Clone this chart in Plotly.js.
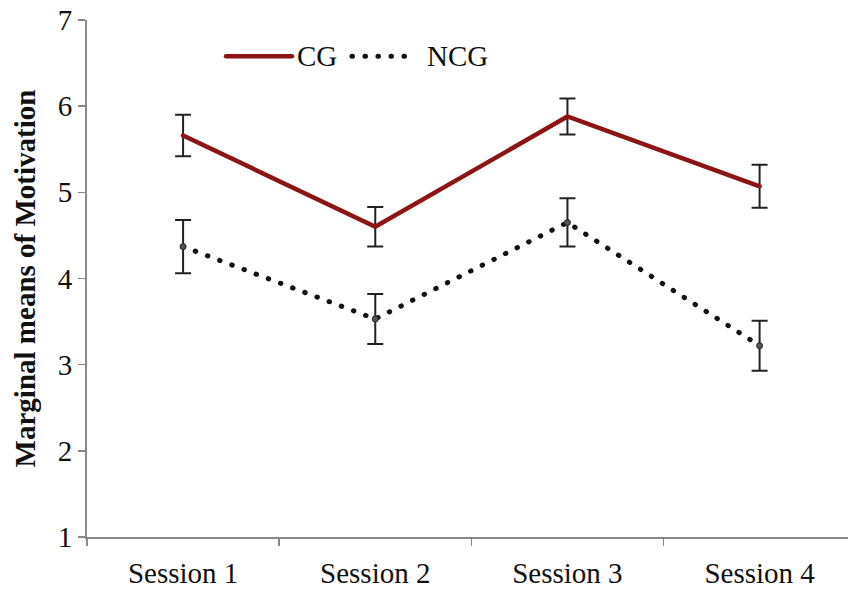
<!DOCTYPE html>
<html>
<head>
<meta charset="utf-8">
<script src="https://cdn.plot.ly/plotly-3.0.1.min.js"></script>
<style>
html, body { margin: 0; padding: 0; background: #fff; }
#chart { width: 848px; height: 589px; }
path.js-line, .shapelayer path { stroke-linecap: round; }
</style>
</head>
<body>
<div id="chart"></div>
<script>
const sessions = ["Session 1", "Session 2", "Session 3", "Session 4"];
const cgMeans = [5.66, 4.60, 5.88, 5.07];
const cgErr = [0.24, 0.23, 0.21, 0.25];
const ncgMeans = [4.37, 3.53, 4.65, 3.22];
const ncgErr = [0.31, 0.29, 0.28, 0.29];
const yTicks = [1, 2, 3, 4, 5, 6, 7];
const seriesNames = ["CG", "NCG"];

const cgColor = "#8C1414";
const ncgColor = "#111";
const ncgDash = "0.5px,12.5px";
const errStyle = { type: "data", visible: true, color: "#222", thickness: 2, width: 8 };

const traces = [
  {
    x: sessions, y: cgMeans, name: seriesNames[0], type: "scatter", mode: "lines",
    line: { color: cgColor, width: 4.5 },
    error_y: Object.assign({ array: cgErr }, errStyle)
  },
  {
    x: sessions, y: ncgMeans, name: seriesNames[1], type: "scatter", mode: "lines+markers",
    line: { color: ncgColor, width: 5, dash: ncgDash },
    marker: { color: "#555", size: 6, line: { color: "#222", width: 1 } },
    error_y: Object.assign({ array: ncgErr }, errStyle)
  }
];

const font = { family: "Liberation Serif, Times New Roman, serif", color: "#111" };

// custom legend (paper coordinates)
const legY = 0.930;
const layout = {
  width: 848, height: 589,
  margin: { l: 87, r: 0, t: 20, b: 52 },
  paper_bgcolor: "#fff", plot_bgcolor: "#fff",
  showlegend: false,
  shapes: [
    { type: "line", xref: "paper", yref: "paper", x0: 0.1827, x1: 0.2694, y0: legY, y1: legY,
      line: { color: cgColor, width: 4.5 } },
    { type: "line", xref: "paper", yref: "paper", x0: 0.3482, x1: 0.431, y0: legY, y1: legY,
      line: { color: ncgColor, width: 5, dash: ncgDash } }
  ],
  annotations: [
    { xref: "paper", yref: "paper", x: 0.2733, y: legY, xanchor: "left", yanchor: "middle",
      text: seriesNames[0], showarrow: false, font: Object.assign({ size: 29 }, font) },
    { xref: "paper", yref: "paper", x: 0.444, y: legY, xanchor: "left", yanchor: "middle",
      text: seriesNames[1], showarrow: false, font: Object.assign({ size: 29 }, font) }
  ],
  xaxis: {
    type: "category", range: [-0.5, 3.46],
    showline: true, linecolor: "#888", linewidth: 2,
    ticks: "outside", tickson: "boundaries", ticklen: 7, tickcolor: "#888", tickwidth: 1.5,
    ticklabelstandoff: 9,
    showgrid: false, zeroline: false,
    tickfont: Object.assign({ size: 29 }, font)
  },
  yaxis: {
    range: [1, 7], tickvals: yTicks,
    showline: true, linecolor: "#888", linewidth: 2,
    ticks: "outside", ticklen: 7, tickcolor: "#888", tickwidth: 1.5,
    showgrid: false, zeroline: false,
    tickfont: Object.assign({ size: 29 }, font),
    title: { text: "<b>Marginal means of Motivation</b>", font: Object.assign({ size: 29 }, font), standoff: 14 }
  }
};

Plotly.newPlot("chart", traces, layout, { displayModeBar: false, staticPlot: true });
</script>
</body>
</html>
